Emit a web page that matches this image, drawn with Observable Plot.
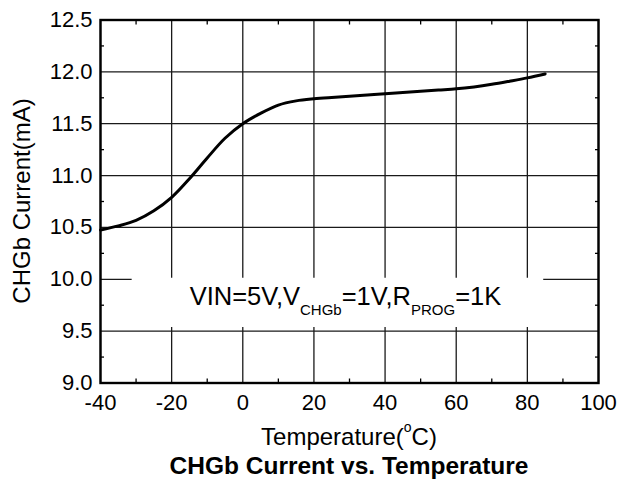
<!DOCTYPE html>
<html>
<head>
<meta charset="utf-8">
<script src="https://cdn.jsdelivr.net/npm/d3@7"></script>
<script src="https://cdn.jsdelivr.net/npm/@observablehq/plot@0.6"></script>
<style>
  body { margin: 0; background: #fff; }
  #chart svg { display: block; }
</style>
</head>
<body>
<div id="chart"></div>
<script>
// Charge current on the CHGb pin versus ambient temperature
const temperature = [-40, -35, -30, -25, -20, -15, -10, -5, 0, 5, 10, 15, 20, 25, 30, 35, 40, 45, 50, 55, 60, 65, 70, 75, 80, 85];
const current = [10.475, 10.515, 10.568, 10.66, 10.79, 10.97, 11.17, 11.36, 11.50, 11.60, 11.68, 11.72, 11.74, 11.753, 11.764, 11.777, 11.79, 11.80, 11.812, 11.824, 11.836, 11.855, 11.88, 11.91, 11.942, 11.98];

const xTicks = [-40, -20, 0, 20, 40, 60, 80, 100];
const yTicks = [9.0, 9.5, 10.0, 10.5, 11.0, 11.5, 12.0, 12.5];
const xMinor = [-30, -10, 10, 30, 50, 70, 90];
const yMinor = [9.25, 9.75, 10.25, 10.75, 11.25, 11.75, 12.25];

const xTitle = ["Temperature(", "o", "C)"];
const yTitle = "CHGb Current(mA)";
const chartTitle = "CHGb Current vs. Temperature";
// test conditions: [text, isSubscript]
const condition = [["VIN=5V,V", false], ["CHGb", true], ["=1V,R", false], ["PROG", true], ["=1K", false]];
const conditionAt = {x: 29, y: 9.75};

const data = temperature.map((t, i) => ({t, c: current[i]}));
const font = "'Liberation Sans', Arial, Helvetica, sans-serif";

// white panel behind the test-condition note
const notePanel = [{x1: -31.1, x2: 84.6, y1: 9.535, y2: 10.01}];

const plot = Plot.plot({
  width: 618,
  height: 488,
  marginLeft: 100,
  marginRight: 20,
  marginTop: 19.5,
  marginBottom: 105.5,
  style: {fontFamily: font, fontSize: "22px", background: "white", color: "black"},
  x: {domain: [-40, 100]},
  y: {domain: [9, 12.5]},
  marks: [
    Plot.ruleX(xTicks, {stroke: "#1a1a1a", strokeWidth: 1.3}),
    Plot.ruleY(yTicks, {stroke: "#1a1a1a", strokeWidth: 1.3}),
    Plot.rect(notePanel, {x1: "x1", x2: "x2", y1: "y1", y2: "y2", fill: "white"}),
    Plot.line(data, {x: "t", y: "c", stroke: "black", strokeWidth: 3, curve: "catmull-rom"}),
    Plot.frame({stroke: "black", strokeWidth: 2.4}),
    Plot.axisX({ticks: xTicks, tickSize: 0, tickPadding: 11, tickFormat: d => String(d), label: null}),
    Plot.axisY({ticks: yTicks, tickSize: 0, tickPadding: 8, tickFormat: d => d.toFixed(1), label: null}),
    Plot.axisX({anchor: "bottom", ticks: xMinor, tickSize: -4, tickFormat: () => "", label: null, strokeWidth: 1.3}),
    Plot.axisX({anchor: "top", ticks: xMinor, tickSize: -4, tickFormat: () => "", label: null, strokeWidth: 1.3}),
    Plot.axisY({anchor: "left", ticks: yMinor, tickSize: -4, tickFormat: () => "", label: null, strokeWidth: 1.3}),
    Plot.axisY({anchor: "right", ticks: yMinor, tickSize: -4, tickFormat: () => "", label: null, strokeWidth: 1.3})
  ]
});

document.getElementById("chart").append(plot);

const svg = d3.select(plot);
const xs = plot.scale("x");
const ys = plot.scale("y");
const xMid = (xs.range[0] + xs.range[1]) / 2;
const yMid = (ys.range[0] + ys.range[1]) / 2;
const bottom = ys.range[0];

// x-axis title with superscript "o"
const xt = svg.append("text")
  .attr("x", xMid).attr("y", bottom + 62.5)
  .attr("text-anchor", "middle")
  .style("font-family", font).style("font-size", "24px").attr("fill", "black");
xt.append("tspan").text(xTitle[0]);
xt.append("tspan").text(xTitle[1]).attr("dy", -13).style("font-size", "14px");
xt.append("tspan").text(xTitle[2]).attr("dy", 13);

// chart title
svg.append("text")
  .attr("x", xMid).attr("y", bottom + 91.5)
  .attr("text-anchor", "middle")
  .style("font-family", font).style("font-size", "24.5px").style("font-weight", "bold")
  .attr("fill", "black")
  .text(chartTitle);

// y-axis title
svg.append("text")
  .attr("transform", `translate(${xs.range[0] - 70},${yMid}) rotate(-90)`)
  .attr("text-anchor", "middle")
  .style("font-family", font).style("font-size", "24px").attr("fill", "black")
  .text(yTitle);

// test conditions with subscripts
const note = svg.append("text")
  .attr("x", xs.apply(conditionAt.x)).attr("y", ys.apply(conditionAt.y))
  .attr("text-anchor", "middle")
  .style("font-family", font).style("font-size", "25.5px").attr("fill", "black");
let shifted = false;
for (const [txt, sub] of condition) {
  const span = note.append("tspan").text(txt);
  if (sub && !shifted) { span.attr("dy", 10).style("font-size", "15px"); shifted = true; }
  else if (!sub && shifted) { span.attr("dy", -10); shifted = false; }
}
</script>
</body>
</html>
